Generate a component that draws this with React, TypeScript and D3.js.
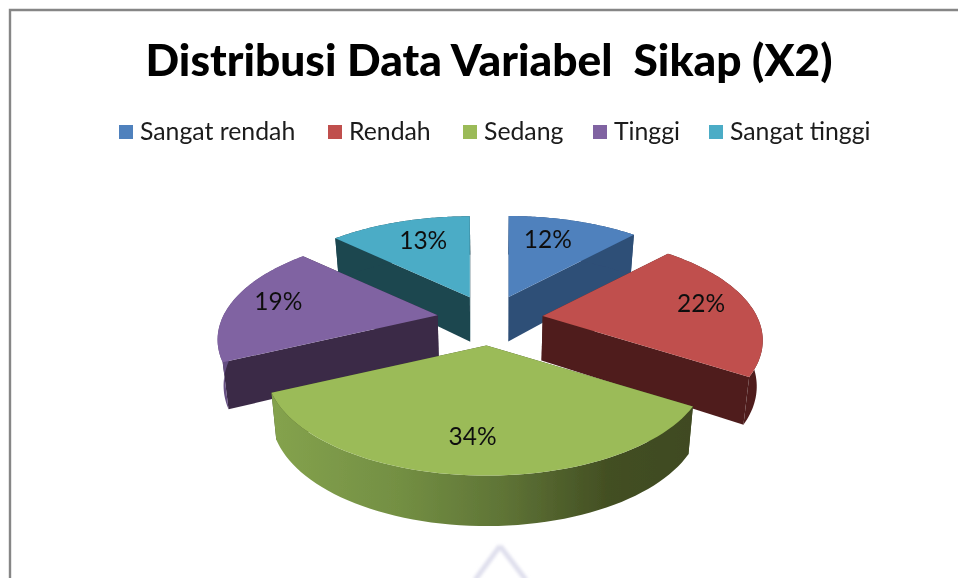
import React from "react";
import * as d3 from "d3";

const categories = ["Sangat rendah", "Rendah", "Sedang", "Tinggi", "Sangat tinggi"];
const values = [12, 22, 34, 19, 13];
const labels = ["12%", "22%", "34%", "19%", "13%"];
const topColors = ["#4f81bd", "#c0504d", "#9bbb59", "#8064a2", "#4bacc6"];
const wallColors = ["#2f4f77", "#4f1f1f", "#3f4a20", "#3b2a47", "#1d4650"];
const arcColors = ["#2f4f77", "#4f1f1f", "url(#greenWall)", "#654f82", "#1d4650"];
const labelRadius = [0.69, 0.77, 0.76, 0.78, 0.7];
const labelAngle = [17.8, 81, 184, 280, 339];
const drawOrder = [4, 0, 3, 1, 2];
const legendX = [119, 328, 463, 593, 709];

const W = 958, H = 578;
const cx = 490, cy = 319, Rx = 214, Ry = 217, k = 0.46, p = 0.233, explode = 0.25;
const squeeze = 0.978;

type P = [number, number];
const scaleAt = (v: number) => 1 / (1 - p * v);
// the exploded offset is projected once; the slice's own shape around its tip is projected on top of it
const project = (u0: number, v0: number, u: number, v: number): P => [
  cx + Rx * u0 * scaleAt(v0) + Rx * u * scaleAt(v),
  cy + Ry * k * v0 * scaleAt(v0) + Ry * k * v * scaleAt(v),
];
const down = (q: P, v: number): P => [cx + (q[0] - cx) * squeeze, q[1] + 44.5 + 6 * v];

const pie = d3.pie<number>().sort(null).startAngle(0).endAngle(2 * Math.PI);
const arcs = pie(values);
const line = d3.line();

export default function App() {
  const slices = arcs.map((a, i) => {
    const mid = (a.startAngle + a.endAngle) / 2;
    const u0 = explode * Math.sin(mid), v0 = -explode * Math.cos(mid);
    const at = (ang: number, r = 1): P => project(u0, v0, r * Math.sin(ang), -r * Math.cos(ang));
    const angs = d3.range(0, 61).map(j => a.startAngle + (a.endAngle - a.startAngle) * j / 60);
    const vOf = (t: number) => -Math.cos(t);
    const tip = project(u0, v0, 0, 0);
    const rimTop = angs.map(t => at(t));
    const rimBot = angs.map((t, j) => down(rimTop[j], vOf(t)));
    const wall = (j: number) => [tip, rimTop[j], rimBot[j], down(tip, 0)] as P[];
    return {
      i,
      topPath: line([tip, ...rimTop]) + "Z",
      outerPath: line([...rimTop, ...rimBot.slice().reverse()]) + "Z",
      wallA: line(wall(0)) + "Z",
      wallB: line(wall(60)) + "Z",
      lab: at((labelAngle[i] * Math.PI) / 180, labelRadius[i]),
    };
  });

  return (
    <svg width={W} height={H} style={{ position: "absolute", left: 0, top: 0, background: "#fff" }}>
      <defs>
        <linearGradient id="greenWall" gradientUnits="userSpaceOnUse" x1="275" x2="690" y1="0" y2="0">
          <stop offset="0" stopColor="#84a24d" />
          <stop offset="0.3" stopColor="#738f43" />
          <stop offset="0.55" stopColor="#5f7436" />
          <stop offset="0.8" stopColor="#434f23" />
          <stop offset="1" stopColor="#3f4a20" />
        </linearGradient>
        <filter id="soft" x="-5%" y="-5%" width="110%" height="110%">
          <feGaussianBlur stdDeviation={0.5} />
        </filter>
        <filter id="softer" x="-30%" y="-30%" width="160%" height="160%">
          <feGaussianBlur stdDeviation={1.4} />
        </filter>
      </defs>
      <path d="M500,546 L475,580 M500,546 L526,580" fill="none" stroke="#dfdfed" strokeWidth={5} filter="url(#softer)" />
      <g filter="url(#soft)">
        <path d="M958,10 H10 V578" fill="none" stroke="#868686" strokeWidth={2.4} />
        <text x={489} y={76} textAnchor="middle" fontFamily="Lato" fontWeight={900} fontSize={44} fill="#000"
          textLength={687} lengthAdjust="spacingAndGlyphs" xmlSpace="preserve">Distribusi Data Variabel  Sikap (X2)</text>
        {categories.map((c, i) => (
          <g key={c}>
            <rect x={legendX[i]} y={125} width={14} height={14} fill={topColors[i]} />
            <text x={legendX[i] + 21} y={140} fontFamily="Lato" fontSize={24.8} fill="#1a1a1a">{c}</text>
          </g>
        ))}
        {drawOrder.map(i => {
          const s = slices[i];
          return (
            <g key={i}>
              <path d={s.wallA} fill={wallColors[i]} />
              <path d={s.wallB} fill={wallColors[i]} />
              <path d={s.outerPath} fill={arcColors[i]} />
              <path d={s.topPath} fill={topColors[i]} />
            </g>
          );
        })}
        {slices.map(s => (
          <text key={s.i} x={s.lab[0]} y={s.lab[1] + 8} textAnchor="middle" fontFamily="Lato" fontSize={24.5} fill="#111">{labels[s.i]}</text>
        ))}
      </g>
    </svg>
  );
}
